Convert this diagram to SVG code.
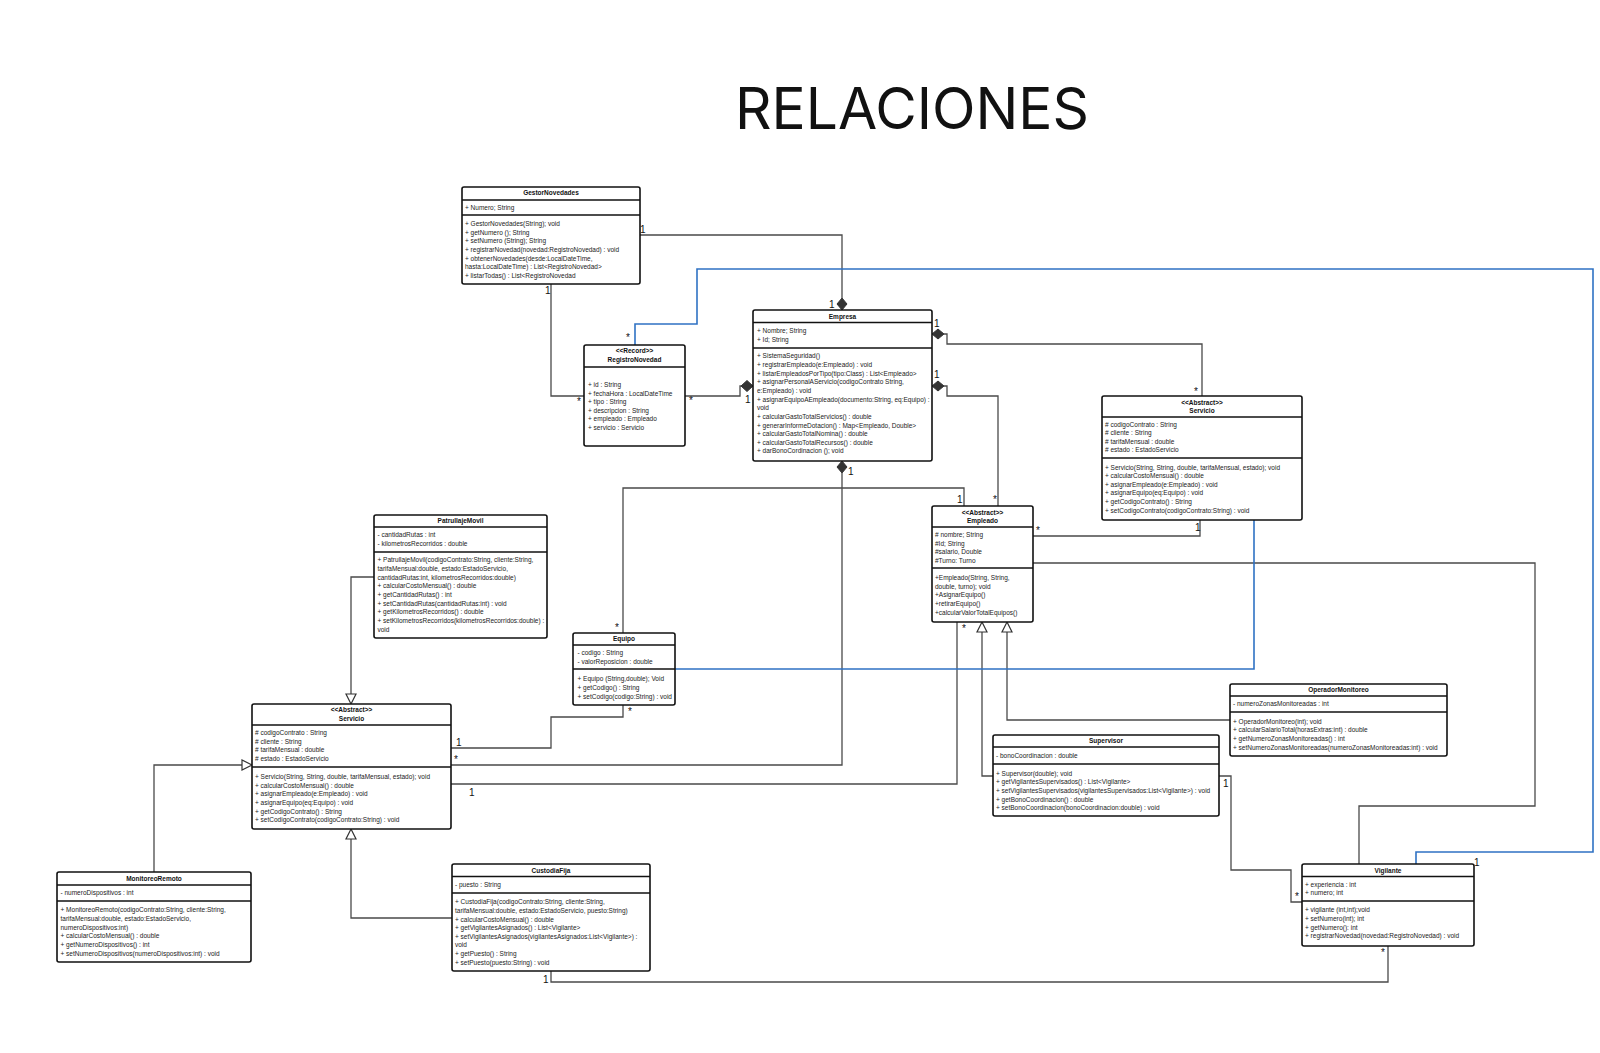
<svg xmlns="http://www.w3.org/2000/svg" width="1600" height="1053" viewBox="0 0 1600 1053">
<style>
.box{fill:#fff;stroke:#111;stroke-width:1.6}
.sep{stroke:#111;stroke-width:1.3}
.t{font-family:'Liberation Sans',Arial,sans-serif;font-size:6.5px;fill:#222}
.h{font-family:'Liberation Sans',Arial,sans-serif;font-size:6.5px;fill:#111;font-weight:bold;text-anchor:middle}
.c{fill:none;stroke:#4a4a4a;stroke-width:1.3}
.bl{fill:none;stroke:#2f72c4;stroke-width:1.6}
.dia{fill:#333;stroke:#333;stroke-width:1}
.tri{fill:#fff;stroke:#333;stroke-width:1.2}
.m{font-family:'Liberation Sans',Arial,sans-serif;font-size:10px;fill:#111}
.title{font-family:Inter,'Liberation Sans',sans-serif;font-size:57px;fill:#111}
</style>
<rect width="1600" height="1053" fill="#fff"/>
<text class="title" x="735" y="128.5" textLength="354" lengthAdjust="spacingAndGlyphs">RELACIONES</text>

<g id="connectors">
  <path class="c" d="M640,235 H842 V298"/>
  <polygon class="dia" points="842,298 847,304 842,310 837,304"/>
  <path class="c" d="M551,284 V396 H584"/>
  <path class="c" d="M685,396 H740 V386 H741"/>
  <polygon class="dia" points="741,386 747,380.5 753,386 747,391.5"/>
  <polygon class="dia" points="932,334 938,329 944,334 938,339"/>
  <path class="c" d="M944,334 H947 V344 H1202 V396"/>
  <polygon class="dia" points="932,386 938,381 944,386 938,391"/>
  <path class="c" d="M944,386 H947 V396 H998 V506"/>
  <polygon class="dia" points="842,461 847,467 842,473 837,467"/>
  <path class="c" d="M842,473 V765 H451"/>
  <path class="c" d="M623,633 V488 H964 V506"/>
  <path class="c" d="M1200,520 V536 H1033"/>
  <path class="c" d="M1033,563 H1535 V806 H1359 V864"/>
  <path class="c" d="M982,632 V776 H993"/>
  <polygon class="tri" points="982,622 987,632 977,632"/>
  <path class="c" d="M1007,632 V720 H1230"/>
  <polygon class="tri" points="1007,622 1012,632 1002,632"/>
  <path class="c" d="M957,622 V784 H451"/>
  <path class="c" d="M623,705 V717 H551 V748 H451"/>
  <path class="c" d="M374,577 H351 V694"/>
  <polygon class="tri" points="351,704 356,694 346,694"/>
  <path class="c" d="M154,872 V765 H242"/>
  <polygon class="tri" points="252,765 242,760 242,770"/>
  <path class="c" d="M452,918 H351 V839"/>
  <polygon class="tri" points="351,829 356,839 346,839"/>
  <path class="c" d="M551,971 V982 H1388 V946"/>
  <path class="c" d="M1219,776 H1231 V870 H1291 V902 H1302"/>
  <path class="bl" d="M635,345 V324 H697 V269 H1593 V852 H1416 V864"/>
  <path class="bl" d="M1254,520 V669 H675"/>
  <text class="m" x="640" y="233">1</text>
  <text class="m" x="829" y="308">1</text>
  <text class="m" x="545" y="294">1</text>
  <text class="m" x="577" y="405">*</text>
  <text class="m" x="689" y="404">*</text>
  <text class="m" x="745" y="403">1</text>
  <text class="m" x="626" y="341">*</text>
  <text class="m" x="1474" y="866">1</text>
  <text class="m" x="934" y="327">1</text>
  <text class="m" x="1194" y="395">*</text>
  <text class="m" x="934" y="378">1</text>
  <text class="m" x="993" y="503">*</text>
  <text class="m" x="848" y="475">1</text>
  <text class="m" x="454" y="763">*</text>
  <text class="m" x="615" y="631">*</text>
  <text class="m" x="957" y="503">1</text>
  <text class="m" x="1195" y="531">1</text>
  <text class="m" x="1036" y="534">*</text>
  <text class="m" x="962" y="632">*</text>
  <text class="m" x="469" y="796">1</text>
  <text class="m" x="628" y="715">*</text>
  <text class="m" x="456" y="746">1</text>
  <text class="m" x="543" y="983">1</text>
  <text class="m" x="1381" y="956">*</text>
  <text class="m" x="1223" y="787">1</text>
  <text class="m" x="1295" y="900">*</text>
</g>

<g id="GestorNovedades">
  <rect class="box" x="462" y="187" width="178" height="97" rx="2"/>
  <text class="h" x="551" y="195">GestorNovedades</text>
  <line class="sep" x1="462" y1="200" x2="640" y2="200"/>
  <text class="t" x="465" y="209.5">+ Numero; String</text>
  <line class="sep" x1="462" y1="215" x2="640" y2="215"/>
  <text class="t" x="465" y="226">+ GestorNovedades(String); void<tspan x="465" dy="8.65">+ getNumero (); String</tspan><tspan x="465" dy="8.65">+ setNumero (String); String</tspan><tspan x="465" dy="8.65">+ registrarNovedad(novedad:RegistroNovedad) : void</tspan><tspan x="465" dy="8.65">+ obtenerNovedades(desde:LocalDateTime,</tspan><tspan x="465" dy="8.65">hasta:LocalDateTime) : List&lt;RegistroNovedad&gt;</tspan><tspan x="465" dy="8.65">+ listarTodas() : List&lt;RegistroNovedad</tspan></text>
</g>

<g id="RegistroNovedad">
  <rect class="box" x="584" y="345" width="101" height="101" rx="2"/>
  <text class="h" x="634.5" y="353">&lt;&lt;Record&gt;&gt;</text>
  <text class="h" x="634.5" y="361.5">RegistroNovedad</text>
  <line class="sep" x1="584" y1="367" x2="685" y2="367"/>
  <text class="t" x="588" y="387">+ id : String<tspan x="588" dy="8.6">+ fechaHora : LocalDateTime</tspan><tspan x="588" dy="8.6">+ tipo : String</tspan><tspan x="588" dy="8.6">+ descripcion : String</tspan><tspan x="588" dy="8.6">+ empleado : Empleado</tspan><tspan x="588" dy="8.6">+ servicio : Servicio</tspan></text>
</g>

<g id="Empresa">
  <rect class="box" x="753" y="310" width="179" height="151" rx="2"/>
  <text class="h" x="842.5" y="318.5">Empresa</text>
  <line class="sep" x1="753" y1="322.5" x2="932" y2="322.5"/>
  <text class="t" x="757" y="333">+ Nombre; String<tspan x="757" dy="8.5">+ Id; String</tspan></text>
  <line class="sep" x1="753" y1="348" x2="932" y2="348"/>
  <text class="t" x="757" y="358.3">+ SistemaSeguridad()<tspan x="757" dy="8.65">+ registrarEmpleado(e:Empleado) : void</tspan><tspan x="757" dy="8.65">+ listarEmpleadosPorTipo(tipo:Class) : List&lt;Empleado&gt;</tspan><tspan x="757" dy="8.65">+ asignarPersonalAServicio(codigoContrato String,</tspan><tspan x="757" dy="8.65">e:Empleado) : void</tspan><tspan x="757" dy="8.65">+ asignarEquipoAEmpleado(documento:String, eq:Equipo) :</tspan><tspan x="757" dy="8.65">void</tspan><tspan x="757" dy="8.65">+ calcularGastoTotalServicios() : double</tspan><tspan x="757" dy="8.65">+ generarInformeDotacion() : Map&lt;Empleado, Double&gt;</tspan><tspan x="757" dy="8.65">+ calcularGastoTotalNomina() : double</tspan><tspan x="757" dy="8.65">+ calcularGastoTotalRecursos() : double</tspan><tspan x="757" dy="8.65">+ darBonoCordinacion (); void</tspan></text>
</g>

<g id="ServicioDerecha">
  <rect class="box" x="1102" y="396" width="200" height="124" rx="2"/>
  <text class="h" x="1202" y="404.5">&lt;&lt;Abstract&gt;&gt;</text>
  <text class="h" x="1202" y="412.5">Servicio</text>
  <line class="sep" x1="1102" y1="417" x2="1302" y2="417"/>
  <text class="t" x="1105" y="426.5"># codigoContrato : String<tspan x="1105" dy="8.65"># cliente : String</tspan><tspan x="1105" dy="8.65"># tarifaMensual : double</tspan><tspan x="1105" dy="8.65"># estado : EstadoServicio</tspan></text>
  <line class="sep" x1="1102" y1="458" x2="1302" y2="458"/>
  <text class="t" x="1105" y="469.5">+ Servicio(String, String, double, tarifaMensual, estado); void<tspan x="1105" dy="8.65">+ calcularCostoMensual() : double</tspan><tspan x="1105" dy="8.65">+ asignarEmpleado(e:Empleado) : void</tspan><tspan x="1105" dy="8.65">+ asignarEquipo(eq:Equipo) : void</tspan><tspan x="1105" dy="8.65">+ getCodigoContrato() : String</tspan><tspan x="1105" dy="8.65">+ setCodigoContrato(codigoContrato:String) : void</tspan></text>
</g>

<g id="Empleado">
  <rect class="box" x="932" y="506" width="101" height="116" rx="2"/>
  <text class="h" x="982.5" y="514.5">&lt;&lt;Abstract&gt;&gt;</text>
  <text class="h" x="982.5" y="522.6">Empleado</text>
  <line class="sep" x1="932" y1="527" x2="1033" y2="527"/>
  <text class="t" x="935" y="537"># nombre; String<tspan x="935" dy="8.65">#Id; String</tspan><tspan x="935" dy="8.65">#salario, Double</tspan><tspan x="935" dy="8.65">#Turno: Turno</tspan></text>
  <line class="sep" x1="932" y1="568" x2="1033" y2="568"/>
  <text class="t" x="935" y="580">+Empleado(String, String,<tspan x="935" dy="8.65">double, turno); void</tspan><tspan x="935" dy="8.65">+AsignarEquipo()</tspan><tspan x="935" dy="8.65">+retirarEquipo()</tspan><tspan x="935" dy="8.65">+calcularValorTotalEquipos()</tspan></text>
</g>

<g id="PatrullajeMovil">
  <rect class="box" x="374" y="515" width="173" height="123" rx="2"/>
  <text class="h" x="460.5" y="522.6">PatrullajeMovil</text>
  <line class="sep" x1="374" y1="527" x2="547" y2="527"/>
  <text class="t" x="377.5" y="537">- cantidadRutas : int<tspan x="377.5" dy="8.65">- kilometrosRecorridos : double</tspan></text>
  <line class="sep" x1="374" y1="552" x2="547" y2="552"/>
  <text class="t" x="377.5" y="562.4">+ PatrullajeMovil(codigoContrato:String, cliente:String,<tspan x="377.5" dy="8.65">tarifaMensual:double, estado:EstadoServicio,</tspan><tspan x="377.5" dy="8.65">cantidadRutas:int, kilometrosRecorridos:double)</tspan><tspan x="377.5" dy="8.65">+ calcularCostoMensual() : double</tspan><tspan x="377.5" dy="8.65">+ getCantidadRutas() : int</tspan><tspan x="377.5" dy="8.65">+ setCantidadRutas(cantidadRutas:int) : void</tspan><tspan x="377.5" dy="8.65">+ getKilometrosRecorridos() : double</tspan><tspan x="377.5" dy="8.65">+ setKilometrosRecorridos(kilometrosRecorridos:double) :</tspan><tspan x="377.5" dy="8.65">void</tspan></text>
</g>

<g id="Equipo">
  <rect class="box" x="573" y="633" width="102" height="72" rx="2"/>
  <text class="h" x="624" y="641">Equipo</text>
  <line class="sep" x1="573" y1="645" x2="675" y2="645"/>
  <text class="t" x="577.5" y="655.3">- codigo : String<tspan x="577.5" dy="8.4">- valorReposicion : double</tspan></text>
  <line class="sep" x1="573" y1="669" x2="675" y2="669"/>
  <text class="t" x="577.5" y="681">+ Equipo (String,double); Void<tspan x="577.5" dy="8.8">+ getCodigo() : String</tspan><tspan x="577.5" dy="8.8">+ setCodigo(codigo:String) : void</tspan></text>
</g>

<g id="ServicioIzquierda">
  <rect class="box" x="252" y="704" width="199" height="125" rx="2"/>
  <text class="h" x="351.5" y="712.4">&lt;&lt;Abstract&gt;&gt;</text>
  <text class="h" x="351.5" y="720.6">Servicio</text>
  <line class="sep" x1="252" y1="725" x2="451" y2="725"/>
  <text class="t" x="255" y="735"># codigoContrato : String<tspan x="255" dy="8.65"># cliente : String</tspan><tspan x="255" dy="8.65"># tarifaMensual : double</tspan><tspan x="255" dy="8.65"># estado : EstadoServicio</tspan></text>
  <line class="sep" x1="252" y1="767" x2="451" y2="767"/>
  <text class="t" x="255" y="779">+ Servicio(String, String, double, tarifaMensual, estado); void<tspan x="255" dy="8.65">+ calcularCostoMensual() : double</tspan><tspan x="255" dy="8.65">+ asignarEmpleado(e:Empleado) : void</tspan><tspan x="255" dy="8.65">+ asignarEquipo(eq:Equipo) : void</tspan><tspan x="255" dy="8.65">+ getCodigoContrato() : String</tspan><tspan x="255" dy="8.65">+ setCodigoContrato(codigoContrato:String) : void</tspan></text>
</g>

<g id="MonitoreoRemoto">
  <rect class="box" x="57" y="872" width="194" height="90" rx="2"/>
  <text class="h" x="154" y="880.8">MonitoreoRemoto</text>
  <line class="sep" x1="57" y1="885" x2="251" y2="885"/>
  <text class="t" x="60.5" y="895">- numeroDispositivos : int</text>
  <line class="sep" x1="57" y1="901" x2="251" y2="901"/>
  <text class="t" x="60.5" y="912.4">+ MonitoreoRemoto(codigoContrato:String, cliente:String,<tspan x="60.5" dy="8.65">tarifaMensual:double, estado:EstadoServicio,</tspan><tspan x="60.5" dy="8.65">numeroDispositivos:int)</tspan><tspan x="60.5" dy="8.65">+ calcularCostoMensual() : double</tspan><tspan x="60.5" dy="8.65">+ getNumeroDispositivos() : int</tspan><tspan x="60.5" dy="8.65">+ setNumeroDispositivos(numeroDispositivos:int) : void</tspan></text>
</g>

<g id="CustodiaFija">
  <rect class="box" x="452" y="864" width="198" height="107" rx="2"/>
  <text class="h" x="551" y="872.6">CustodiaFija</text>
  <line class="sep" x1="452" y1="876.5" x2="650" y2="876.5"/>
  <text class="t" x="455" y="887">- puesto : String</text>
  <line class="sep" x1="452" y1="893" x2="650" y2="893"/>
  <text class="t" x="455" y="904.2">+ CustodiaFija(codigoContrato:String, cliente:String,<tspan x="455" dy="8.65">tarifaMensual:double, estado:EstadoServicio, puesto:String)</tspan><tspan x="455" dy="8.65">+ calcularCostoMensual() : double</tspan><tspan x="455" dy="8.65">+ getVigilantesAsignados() : List&lt;Vigilante&gt;</tspan><tspan x="455" dy="8.65">+ setVigilantesAsignados(vigilantesAsignados:List&lt;Vigilante&gt;) :</tspan><tspan x="455" dy="8.65">void</tspan><tspan x="455" dy="8.65">+ getPuesto() : String</tspan><tspan x="455" dy="8.65">+ setPuesto(puesto:String) : void</tspan></text>
</g>

<g id="Supervisor">
  <rect class="box" x="993" y="735" width="226" height="81" rx="2"/>
  <text class="h" x="1106" y="743">Supervisor</text>
  <line class="sep" x1="993" y1="747" x2="1219" y2="747"/>
  <text class="t" x="996" y="758.3">- bonoCoordinacion : double</text>
  <line class="sep" x1="993" y1="764" x2="1219" y2="764"/>
  <text class="t" x="996" y="775.7">+ Supervisor(double); void<tspan x="996" dy="8.65">+ getVigilantesSupervisados() : List&lt;Vigilante&gt;</tspan><tspan x="996" dy="8.65">+ setVigilantesSupervisados(vigilantesSupervisados:List&lt;Vigilante&gt;) : void</tspan><tspan x="996" dy="8.65">+ getBonoCoordinacion() : double</tspan><tspan x="996" dy="8.65">+ setBonoCoordinacion(bonoCoordinacion:double) : void</tspan></text>
</g>

<g id="OperadorMonitoreo">
  <rect class="box" x="1230" y="684" width="217" height="72" rx="2"/>
  <text class="h" x="1338.5" y="692">OperadorMonitoreo</text>
  <line class="sep" x1="1230" y1="696" x2="1447" y2="696"/>
  <text class="t" x="1233" y="706.3">- numeroZonasMonitoreadas : int</text>
  <line class="sep" x1="1230" y1="712" x2="1447" y2="712"/>
  <text class="t" x="1233" y="723.6">+ OperadorMonitoreo(int); void<tspan x="1233" dy="8.65">+ calcularSalarioTotal(horasExtras:int) : double</tspan><tspan x="1233" dy="8.65">+ getNumeroZonasMonitoreadas() : int</tspan><tspan x="1233" dy="8.65">+ setNumeroZonasMonitoreadas(numeroZonasMonitoreadas:int) : void</tspan></text>
</g>

<g id="Vigilante">
  <rect class="box" x="1302" y="864" width="172" height="82" rx="2"/>
  <text class="h" x="1388" y="872.6">Vigilante</text>
  <line class="sep" x1="1302" y1="876.5" x2="1474" y2="876.5"/>
  <text class="t" x="1305" y="887">+ experiencia : int<tspan x="1305" dy="8.2">+ numero; int</tspan></text>
  <line class="sep" x1="1302" y1="901" x2="1474" y2="901"/>
  <text class="t" x="1305" y="912.4">+ vigilante (int,int);void<tspan x="1305" dy="8.65">+ setNumero(int); int</tspan><tspan x="1305" dy="8.65">+ getNumero(): int</tspan><tspan x="1305" dy="8.65">+ registrarNovedad(novedad:RegistroNovedad) : void</tspan></text>
</g>
</svg>
